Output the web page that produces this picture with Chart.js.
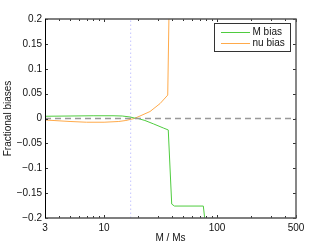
<!DOCTYPE html>
<html>
<head>
<meta charset="utf-8">
<script src="https://cdn.jsdelivr.net/npm/chart.js@4"></script>
<style>
  html, body { margin: 0; padding: 0; background: #fff; }
  #wrap { width: 327px; height: 245px; }
</style>
</head>
<body>
<div id="wrap"><canvas id="bias-chart" width="327" height="245"></canvas></div>
<script>
// Data
const mBiasMass = [3, 5, 8, 12, 14.5, 17, 18.5, 20, 23, 27.5, 33.4, 37, 39.7, 42, 75.6, 78.6, 80];
const mBiasValues = [0.0045, 0.005, 0.0055, 0.0055, 0.005, 0.003, 0.001, 0, -0.004, -0.011, -0.019, -0.023, -0.172, -0.176, -0.176, -0.21, -0.3];

const nuBiasMass = [3, 5, 7, 10, 13.5, 15.6, 17, 18.5, 20.8, 25.5, 31.3, 36.6, 37.5, 37.8];
const nuBiasValues = [-0.003, -0.006, -0.0075, -0.0075, -0.006, -0.004, -0.002, 0, 0.005, 0.014, 0.03, 0.047, 0.2, 0.4];

const markerMass = 17.2;
const xTicks = [3, 4, 5, 6, 7, 8, 9, 10, 20, 30, 40, 50, 60, 70, 80, 90, 100, 200, 300, 400, 500];
const xLabels = [3, 10, 100, 500];
const yTicks = [-0.2, -0.15, -0.1, -0.05, 0, 0.05, 0.1, 0.15, 0.2];

const seriesLabels = ["M bias", "nu bias"];
const seriesColors = ["#4fcc3f", "#ffaa4a"];

const FONT = { family: "'Liberation Sans', Arial, sans-serif", size: 10 };

function toPoints(xs, ys) {
  return xs.map((x, i) => ({ x: x, y: ys[i] }));
}

function fmtY(v) {
  if (Math.abs(v) < 1e-9) return "0";
  const s = String(Math.round(v * 100) / 100);
  return v < 0 ? "\u2212" + s.slice(1) : s;
}

// Box, inward ticks and legend drawn on top, in matlab style
const framePlugin = {
  id: "frame",
  afterDatasetsDraw(chart) {
    const { ctx, chartArea: a, scales } = chart;
    const xs = scales.x, ys = scales.y;
    ctx.save();

    // ticks
    ctx.strokeStyle = "#333";
    ctx.lineWidth = 1;
    ctx.beginPath();
    xTicks.forEach((t) => {
      const px = Math.round(xs.getPixelForValue(t)) + 0.5;
      const len = xLabels.includes(t) ? 3 : 2;
      ctx.moveTo(px, a.bottom); ctx.lineTo(px, a.bottom - len);
      ctx.moveTo(px, a.top); ctx.lineTo(px, a.top + len);
    });
    yTicks.forEach((t) => {
      const py = Math.round(ys.getPixelForValue(t)) + 0.5;
      ctx.moveTo(a.left, py); ctx.lineTo(a.left + 3, py);
      ctx.moveTo(a.right, py); ctx.lineTo(a.right - 3, py);
    });
    ctx.stroke();

    // box
    ctx.strokeStyle = "#555";
    ctx.lineWidth = 1.4;
    ctx.beginPath();
    ctx.moveTo(a.left, a.top); ctx.lineTo(a.right, a.top);
    ctx.lineTo(a.right, a.bottom); ctx.lineTo(a.left, a.bottom);
    ctx.stroke();
    ctx.strokeStyle = "#000";
    ctx.lineWidth = 1;
    ctx.beginPath();
    ctx.moveTo(a.left + 0.5, a.top); ctx.lineTo(a.left + 0.5, a.bottom);
    ctx.stroke();

    // legend
    const lx = 214.5, ly = 23.5, lw = 76, lh = 28;
    ctx.fillStyle = "#fff";
    ctx.fillRect(lx, ly, lw, lh);
    ctx.strokeStyle = "#333";
    ctx.lineWidth = 1;
    ctx.strokeRect(lx, ly, lw, lh);
    ctx.font = FONT.size + "px " + FONT.family;
    ctx.textBaseline = "middle";
    ctx.textAlign = "left";
    seriesLabels.forEach((label, i) => {
      const rowY = 32.5 + i * 11;
      ctx.strokeStyle = seriesColors[i];
      ctx.beginPath();
      ctx.moveTo(221, rowY); ctx.lineTo(250, rowY);
      ctx.stroke();
      ctx.fillStyle = "#111";
      ctx.fillText(label, 252.5, rowY);
    });
    ctx.restore();
  },
};

const ctx = document.getElementById("bias-chart").getContext("2d");

new Chart(ctx, {
  type: "line",
  data: {
    datasets: [
      {
        label: seriesLabels[0],
        data: toPoints(mBiasMass, mBiasValues),
        borderColor: seriesColors[0],
        borderWidth: 1,
        pointRadius: 0,
        order: 2,
      },
      {
        label: seriesLabels[1],
        data: toPoints(nuBiasMass, nuBiasValues),
        borderColor: seriesColors[1],
        borderWidth: 1,
        pointRadius: 0,
        order: 3,
      },
      {
        label: "zero",
        data: [{ x: 3, y: 0 }, { x: 500, y: 0 }],
        borderColor: "#999",
        borderWidth: 1.6,
        borderDash: [6, 4],
        pointRadius: 0,
        order: 1,
      },
      {
        label: "marker",
        data: [{ x: markerMass, y: -0.2 }, { x: markerMass, y: 0.2 }],
        borderColor: "#c4c4ff",
        borderWidth: 1,
        borderDash: [1.5, 2.5],
        pointRadius: 0,
        order: 4,
      },
    ],
  },
  options: {
    responsive: false,
    animation: false,
    layout: { padding: { top: 19, right: 31, left: 0, bottom: 0 } },
    plugins: {
      legend: { display: false },
      tooltip: { enabled: false },
    },
    scales: {
      x: {
        type: "logarithmic",
        min: 3,
        max: 500,
        afterBuildTicks: (scale) => {
          scale.ticks = xTicks.map((v) => ({ value: v }));
        },
        afterFit: (scale) => { scale.height = 27; },
        grid: { display: false, drawTicks: false },
        border: { display: false },
        ticks: {
          autoSkip: false,
          maxRotation: 0,
          padding: 4,
          color: "#111",
          font: FONT,
          callback: (v) => (xLabels.includes(v) ? String(v) : ""),
        },
        title: {
          display: true,
          text: "M / Ms",
          color: "#111",
          font: FONT,
          padding: { top: 0, bottom: 1 },
        },
      },
      y: {
        min: -0.2,
        max: 0.2,
        afterBuildTicks: (scale) => {
          scale.ticks = yTicks.map((v) => ({ value: v }));
        },
        afterFit: (scale) => { scale.width = 45; },
        grid: { display: false, drawTicks: false },
        border: { display: false },
        ticks: {
          padding: 3,
          color: "#111",
          font: FONT,
          callback: (v) => fmtY(v),
        },
        title: {
          display: true,
          text: "Fractional biases",
          color: "#111",
          font: FONT,
          padding: { top: 2, bottom: 0 },
        },
      },
    },
  },
  plugins: [framePlugin],
});
</script>
</body>
</html>
